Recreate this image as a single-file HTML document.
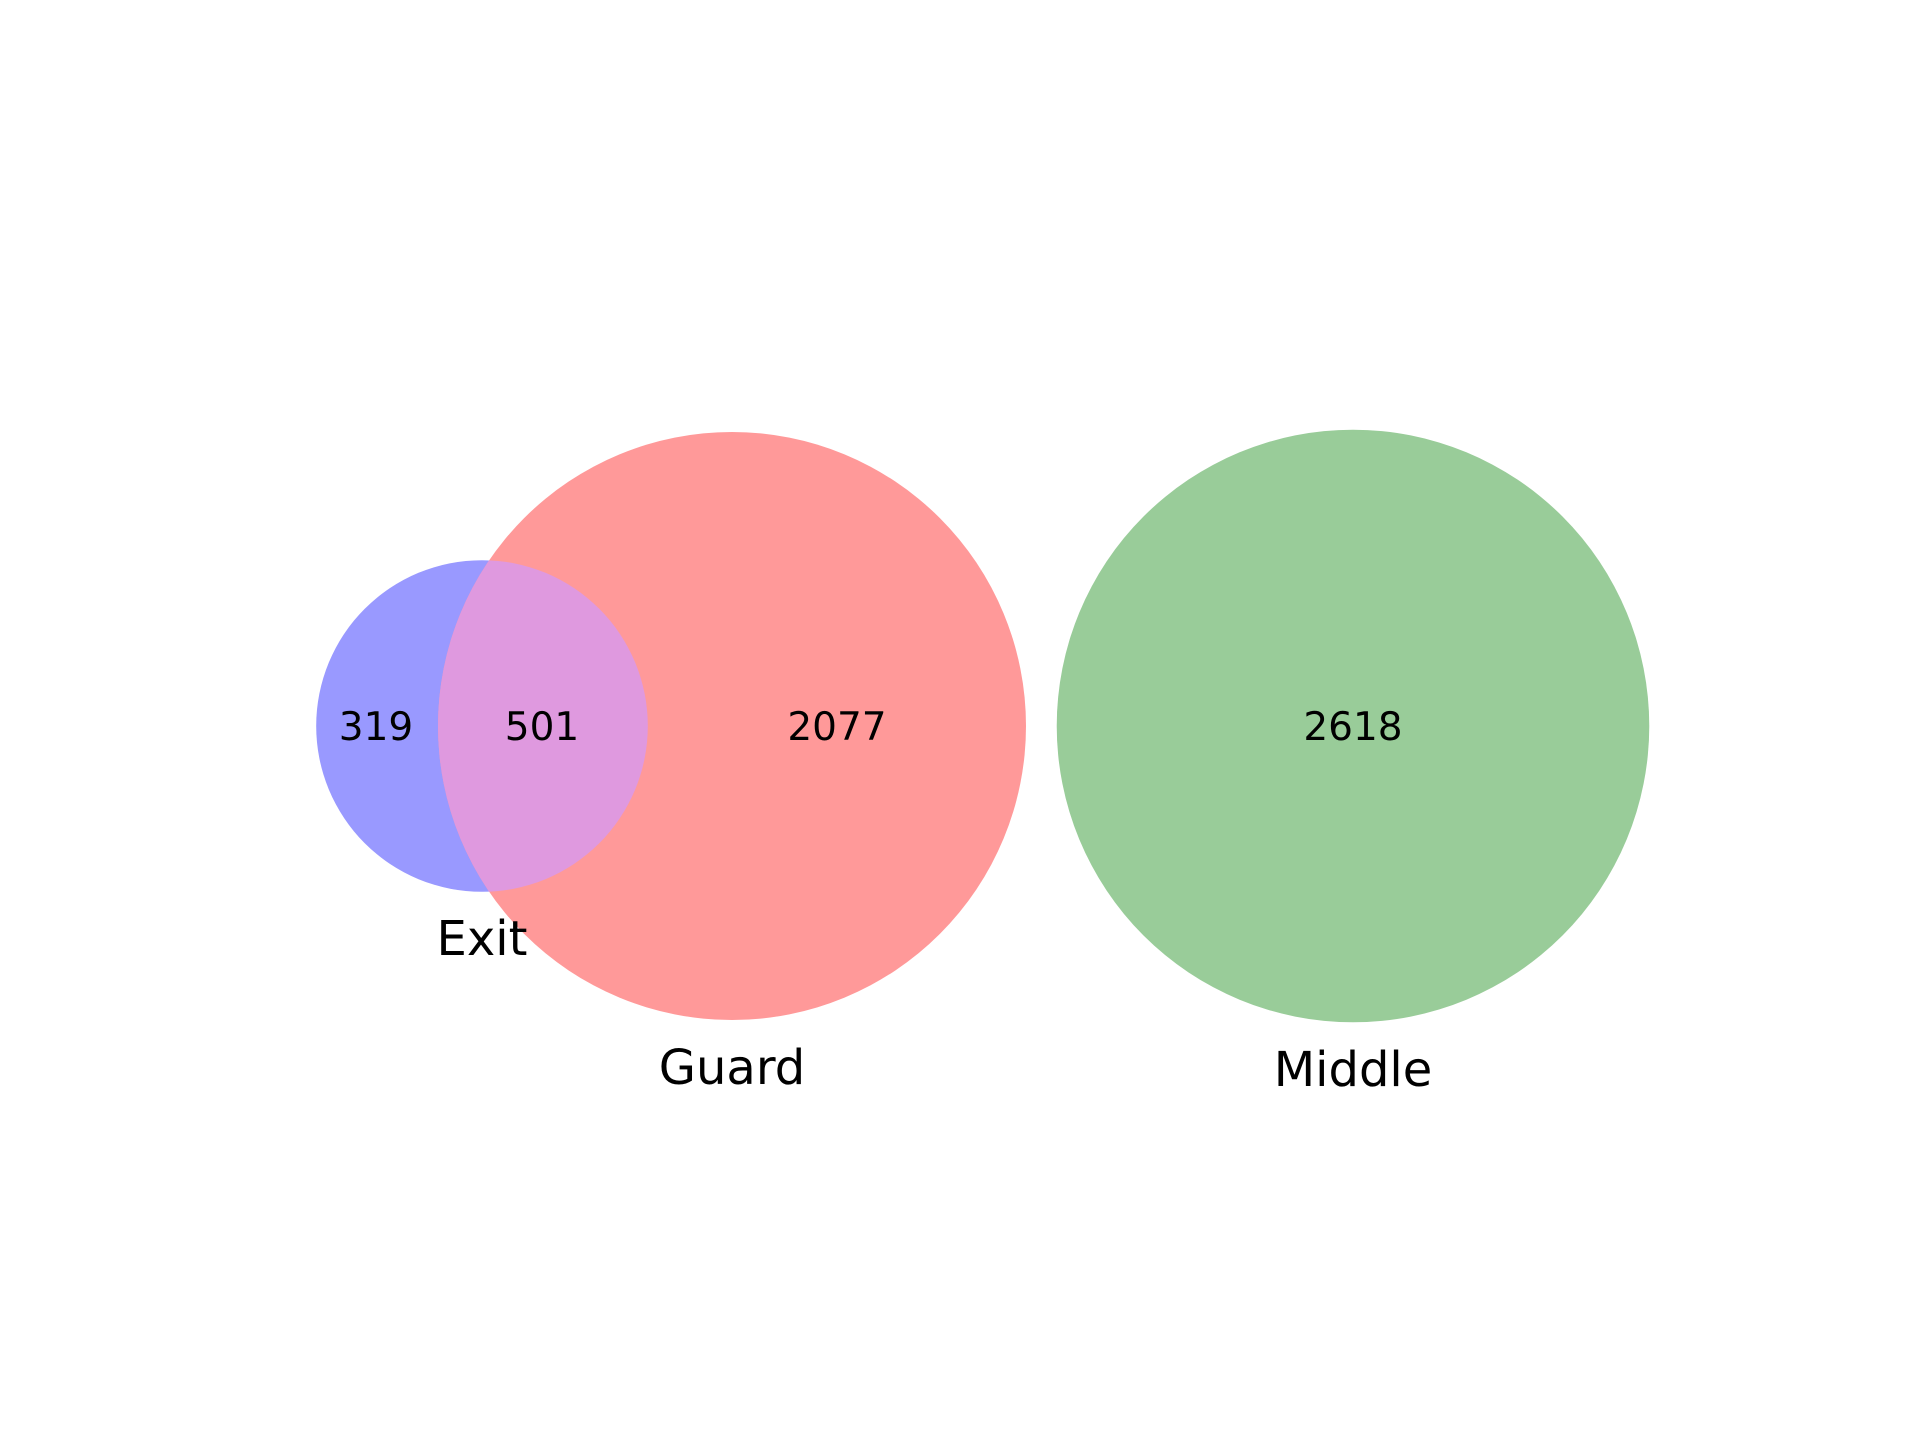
<!DOCTYPE html>
<html>
<head>
<meta charset="utf-8">
<style>
  html,body{margin:0;padding:0;background:#fff;}
  svg{display:block;}
  text{font-family:"DejaVu Sans","Liberation Sans",sans-serif;fill:#000;}
</style>
</head>
<body>
<svg id="chart" width="1920" height="1440" viewBox="0 0 1920 1440" xmlns="http://www.w3.org/2000/svg">
  <rect width="1920" height="1440" fill="#fff"/>
</svg>
<script>
const setNames = ["Exit", "Guard", "Middle"];
const setTotals = [820, 2578, 2618];
const regionLabels = ["319", "501", "2077", "2618"];

const NS = "http://www.w3.org/2000/svg";
const svg = document.getElementById("chart");
const k = 294 / Math.sqrt(2578);
const cy = 726;
const centersX = [482, 732, 1353];
const colors = ["#9999ff", "#ff9999", "#99cc99"];
const radii = setTotals.map(t => k * Math.sqrt(t));

const defs = document.createElementNS(NS, "defs");
const cp = document.createElementNS(NS, "clipPath");
cp.setAttribute("id", "exitClip");
const cpc = document.createElementNS(NS, "circle");
cpc.setAttribute("cx", centersX[0]); cpc.setAttribute("cy", cy); cpc.setAttribute("r", radii[0]);
cp.appendChild(cpc); defs.appendChild(cp); svg.appendChild(defs);

for (let i = 0; i < 3; i++) {
  const c = document.createElementNS(NS, "circle");
  c.setAttribute("cx", centersX[i]); c.setAttribute("cy", cy); c.setAttribute("r", radii[i]);
  c.setAttribute("fill", colors[i]);
  
  
  svg.appendChild(c);
}
const ov = document.createElementNS(NS, "circle");
ov.setAttribute("cx", centersX[1]); ov.setAttribute("cy", cy); ov.setAttribute("r", radii[1]);
ov.setAttribute("fill", "#df99df");
ov.setAttribute("clip-path", "url(#exitClip)");


svg.appendChild(ov);

const labelX = [376, 542, 837, 1353];
regionLabels.forEach((t, i) => {
  const tx = document.createElementNS(NS, "text");
  tx.setAttribute("x", labelX[i]); tx.setAttribute("y", cy + 14);
  tx.setAttribute("text-anchor", "middle"); tx.setAttribute("font-size", "39");
  tx.textContent = t;
  
  
  svg.appendChild(tx);
});
const setLabelY = [955, 1084, 1086];
setNames.forEach((n, i) => {
  const tx = document.createElementNS(NS, "text");
  tx.setAttribute("x", centersX[i]); tx.setAttribute("y", setLabelY[i]);
  tx.setAttribute("text-anchor", "middle"); tx.setAttribute("font-size", "48");
  tx.textContent = n;
  
  
  svg.appendChild(tx);
});
</script>
</body>
</html>
